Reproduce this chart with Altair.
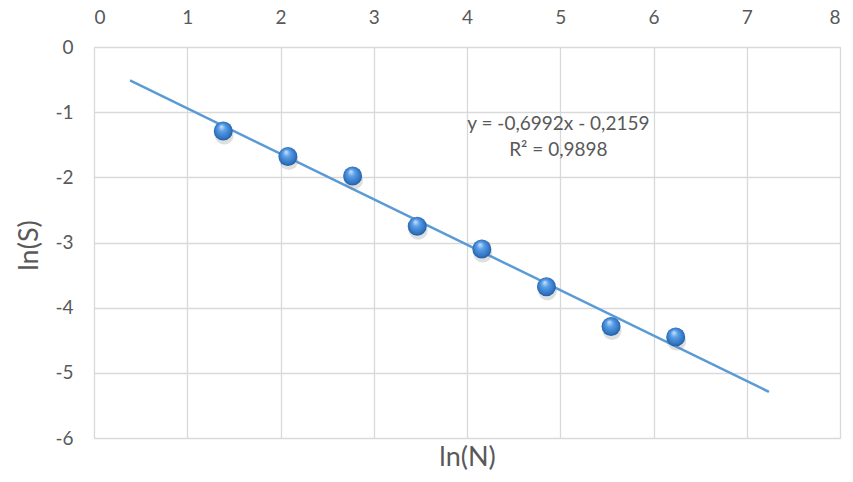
import altair as alt
import pandas as pd

# data
ln_n = [1.386, 2.079, 2.773, 3.466, 4.159, 4.852, 5.545, 6.238]
ln_s = [-1.29, -1.68, -1.98, -2.75, -3.10, -3.68, -4.29, -4.45]
x_ticks = [0, 1, 2, 3, 4, 5, 6, 7, 8]
y_ticks = [-6, -5, -4, -3, -2, -1, 0]
trend_extent = [0.386, 7.238]
eq_text = ["y = -0,6992x - 0,2159", "R² = 0,9898"]
eq_x = [4.98, 4.98]
eq_y = [-1.18, -1.58]

df = pd.DataFrame({"lnN": ln_n, "lnS": ln_s})
eq_df = pd.DataFrame({"lnN": eq_x, "lnS": eq_y, "t": eq_text})

FONT = "Lato"
GRAY = "#595959"
GRID = "#d9d9d9"
W, H = 746, 391

xs = alt.Scale(domain=[0, 8], nice=False, zero=False)
ys = alt.Scale(domain=[-6, 0], nice=False, zero=False)

x_enc = alt.X("lnN:Q", scale=xs, axis=alt.Axis(
    orient="top", values=x_ticks, grid=True, gridColor=GRID, gridWidth=1.3,
    ticks=False, domain=False, labelPadding=20, labelFontSize=19,
    labelColor=GRAY, labelFont=FONT, labelExpr="'' + datum.value",
    title="ln(N)", titleFont=FONT,
    titleFontSize=27, titleFontWeight="normal", titleColor=GRAY,
    titleX=W / 2, titleY=410, titleBaseline="middle", titleAlign="center"))
y_enc = alt.Y("lnS:Q", scale=ys, axis=alt.Axis(
    orient="left", values=y_ticks, grid=True, gridColor=GRID, gridWidth=1.3,
    ticks=False, domain=False, labelPadding=21, labelFontSize=19,
    labelColor=GRAY, labelFont=FONT, labelExpr="'' + datum.value",
    title="ln(S)", titleFont=FONT, titleFontSize=27, titleFontWeight="normal",
    titleColor=GRAY, titleAngle=-90, titleX=-65, titleY=198,
    titleBaseline="middle", titleAlign="center"))

base = alt.Chart(df)

trend = base.transform_regression("lnN", "lnS", extent=trend_extent).mark_line(
    color="#5b9bd5", strokeWidth=2.5).encode(x=x_enc, y=y_enc)

shadow = base.mark_circle(size=360, color="#7f7f7f", opacity=0.25, yOffset=4, xOffset=1).encode(
    x=alt.X("lnN:Q", scale=xs), y=alt.Y("lnS:Q", scale=ys))

grad = alt.RadialGradient(
    gradient="radial", x1=0.4, y1=0.25, r1=0.0, x2=0.5, y2=0.5, r2=0.55,
    stops=[alt.GradientStop(color="#cfe6ff", offset=0),
           alt.GradientStop(color="#5a9ee6", offset=0.35),
           alt.GradientStop(color="#2f73c2", offset=0.8),
           alt.GradientStop(color="#1d4f8c", offset=1)])

points = base.mark_circle(size=360, fill=grad, opacity=1).encode(
    x=alt.X("lnN:Q", scale=xs), y=alt.Y("lnS:Q", scale=ys))

eq = alt.Chart(eq_df).mark_text(font=FONT, fontSize=19, color=GRAY, align="center",
                                baseline="middle").encode(
    x=alt.X("lnN:Q", scale=xs), y=alt.Y("lnS:Q", scale=ys), text="t:N")

chart = alt.layer(trend, shadow, points, eq).properties(
    width=W, height=H, autosize=alt.AutoSizeParams(type="none"),
    padding={"left": 86, "top": 39, "right": 5, "bottom": 32}
).configure_view(stroke=None).configure(background="white")

chart.save("out.html", embed_options={"renderer": "svg", "actions": False})
